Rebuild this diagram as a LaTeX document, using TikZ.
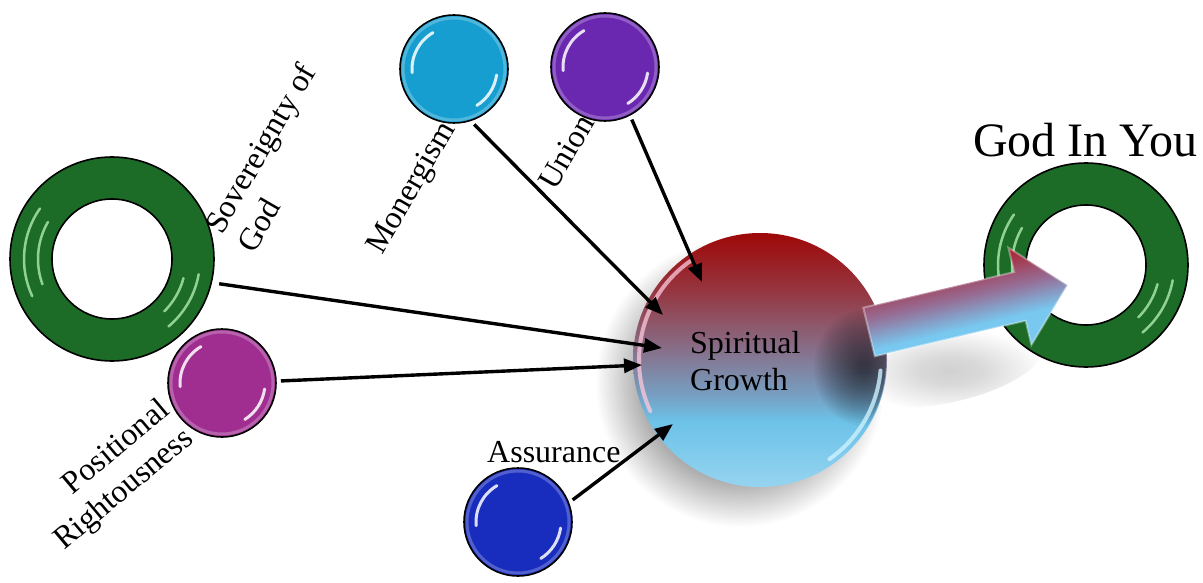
\documentclass[tikz,border=0pt]{standalone}
\usepackage{fontspec}
\setmainfont{Liberation Serif}
\usetikzlibrary{arrows.meta}

\definecolor{ringgreen}{RGB}{28,108,40}
\definecolor{ringshinecol}{RGB}{175,235,175}
\definecolor{monercyan}{RGB}{22,158,208}
\definecolor{unionpurple}{RGB}{106,40,176}
\definecolor{posmagenta}{RGB}{160,46,145}
\definecolor{assureblue}{RGB}{24,44,190}
\definecolor{sgred}{RGB}{158,8,8}
\definecolor{sgredtwo}{RGB}{150,52,62}
\definecolor{sgmauve}{RGB}{135,112,138}
\definecolor{sgsteel}{RGB}{118,160,195}
\definecolor{sgblue}{RGB}{108,194,232}
\definecolor{sgbluelt}{RGB}{150,212,240}
\definecolor{arrred}{RGB}{170,35,50}
\definecolor{arrmauve}{RGB}{150,110,150}
\definecolor{arrblue}{RGB}{120,200,240}
\definecolor{shadowgray}{RGB}{172,172,172}
\definecolor{pinkrim}{RGB}{255,200,220}
\definecolor{cyanrim}{RGB}{205,242,255}

% colour bands of the central sphere, bottom to top
\pgfdeclareverticalshading{growthfill}{100bp}{color(0bp)=(sgbluelt); color(25bp)=(sgbluelt); color(38bp)=(sgblue); color(43bp)=(sgsteel); color(52bp)=(sgmauve); color(64bp)=(sgredtwo); color(75bp)=(sgred); color(100bp)=(sgred)}
% colour bands of the block arrow, bottom to top
\pgfdeclareverticalshading{arrowfill}{100bp}{color(0bp)=(arrblue); color(25bp)=(arrblue); color(40bp)=(arrblue); color(52bp)=(arrmauve); color(66bp)=(arrred); color(75bp)=(arrred); color(100bp)=(arrred)}
% soft drop shadows
\pgfdeclareradialshading{softshadow}{\pgfpoint{0bp}{0bp}}{color(0bp)=(shadowgray); color(17bp)=(shadowgray); color(25bp)=(white); color(50bp)=(white)}
\pgfdeclareradialshading{faintshadow}{\pgfpoint{0bp}{0bp}}{color(0bp)=(black!18); color(8bp)=(black!15); color(25bp)=(white); color(50bp)=(white)}

\begin{document}
\begin{tikzpicture}[x=1pt,y=-1pt,
  lbl/.style={font=\fontsize{32}{37}\selectfont, inner sep=0pt},
  ball/.style={circle, draw=black, line width=1.6pt, fill=#1, minimum size=108pt, inner sep=0pt, outer sep=5pt},
  ringspot/.style={circle, minimum size=204pt, inner sep=0pt, outer sep=8pt},
  link/.style={line width=3.4pt, -{Triangle[length=18pt,width=14pt]}},
  shine/.style={white, line width=3pt, opacity=0.85, line cap=round},
  softrim/.style={white, line width=3pt, opacity=0.25},
  ringshine/.style={ringshinecol, line width=2.5pt, opacity=0.8, line cap=round}]

\useasboundingbox (0,0) rectangle (1203,583);

% shadows under the sphere and the block arrow
\shade[shading=softshadow] (740,382) circle[radius=145];
\shade[shading=faintshadow, rotate around={13:(950,368)}] (950,368) ellipse[x radius=95, y radius=34];

% rings
\node[ringspot] (sov) at (112,259) {};
\node[ringspot] (giy) at (1086,265) {};
\foreach \r in {sov,giy} {
  \fill[ringgreen, even odd rule] (\r.center) circle[radius=102] circle[radius=60];
  \draw[line width=1.6pt] (\r.center) circle[radius=102] circle[radius=60];
  \draw[ringshine] ([shift={(145:88pt)}]\r.center) arc[start angle=145, end angle=205, radius=88pt];
  \draw[ringshine] ([shift={(150:74pt)}]\r.center) arc[start angle=150, end angle=200, radius=74pt];
  \draw[ringshine] ([shift={(-10:88pt)}]\r.center) arc[start angle=-10, end angle=-50, radius=88pt];
  \draw[ringshine] ([shift={(-15:74pt)}]\r.center) arc[start angle=-15, end angle=-45, radius=74pt];
}

% small glossy balls
\node[ball=monercyan]   (mon) at (454,69)  {};
\node[ball=unionpurple] (uni) at (605,67)  {};
\node[ball=posmagenta]  (pos) at (222,383) {};
\node[ball=assureblue]  (ass) at (518,522) {};
\foreach \b in {mon,uni,pos,ass} {
  \draw[softrim] (\b.center) circle[radius=51];
  \draw[shine] ([shift={(120:42pt)}]\b.center) arc[start angle=120, end angle=185, radius=42pt];
  \draw[shine] ([shift={(-8:43pt)}]\b.center) arc[start angle=-8, end angle=-58, radius=43pt];
}

% central sphere
\node[circle, minimum size=254pt, inner sep=0pt] (sg) at (760,360) {};
\shade[shading=growthfill] (sg.center) circle[radius=127];
\begin{scope}
  \clip (sg.center) circle[radius=126];
  \foreach \k in {0,...,19} {
    \fill[black, opacity=0.035] (864,368) ellipse[x radius={50-2.3*\k}, y radius={58-2.7*\k}];
  }
\end{scope}
\draw[pinkrim, line width=4pt, opacity=0.75, line cap=round]
  ([shift={(125:121pt)}]sg.center) arc[start angle=125, end angle=205, radius=121pt];
\draw[cyanrim, line width=4pt, opacity=0.8, line cap=round]
  ([shift={(-5:121pt)}]sg.center) arc[start angle=-5, end angle=-55, radius=121pt];

% connectors into the sphere
\coordinate (tSov) at (662,348);
\coordinate (tPos) at (642,365);
\coordinate (tMon) at (663,315);
\coordinate (tUni) at (702,282);
\coordinate (tAss) at (673,424);
\draw[link] (sov.-13.5) -- (tSov);
\draw[link] (pos.2) -- (tPos);
\draw[link] (mon.-70) -- (tMon);
\draw[link] (uni.-63) -- (tUni);
\draw[link] (ass.22) -- (tAss);

% block arrow from the sphere into the right ring
\coordinate (aA) at (863.3,307.7);
\coordinate (aB) at (1014.1,272.0);
\coordinate (aC) at (1008.4,247.7);
\coordinate (aD) at (1067.5,285.1);
\coordinate (aE) at (1031.4,345.0);
\coordinate (aF) at (1025.6,320.7);
\coordinate (aG) at (874.8,356.3);
\shade[shading=arrowfill, shading angle=13.3] (aA) -- (aB) -- (aC) -- (aD) -- (aE) -- (aF) -- (aG) -- cycle;
\draw[white, opacity=0.35, line width=2pt, line join=miter] (aA) -- (aB) -- (aC) -- (aD) -- (aE) -- (aF) -- (aG) -- cycle;

% labels
\node[lbl, anchor=base west, rotate=60] (lSov1) at (222,236) {Sovereignty of};
\node[lbl, anchor=base west, rotate=60] (lSov2) at (254,254.5) {God};
\node[lbl, anchor=base west, rotate=60] (lMon) at (382,256) {Monergism};
\node[lbl, anchor=base west, rotate=60] (lUni) at (555,192) {Union};
\node[lbl, anchor=base east, rotate=40] (lPos1) at (171,413) {Positional};
\node[lbl, anchor=base east, rotate=40] (lPos2) at (195,441) {Rightousness};
\node[lbl, anchor=base west] (lAss) at (487,462) {Assurance};
\node[lbl, anchor=base west] (lSg1) at (690,353) {Spiritual};
\node[lbl, anchor=base west] (lSg2) at (690,390) {Growth};
\node[font=\fontsize{48}{56}\selectfont, inner sep=0pt, anchor=base west] (lGiy) at (973,157) {God In You};
\end{tikzpicture}
\end{document}
